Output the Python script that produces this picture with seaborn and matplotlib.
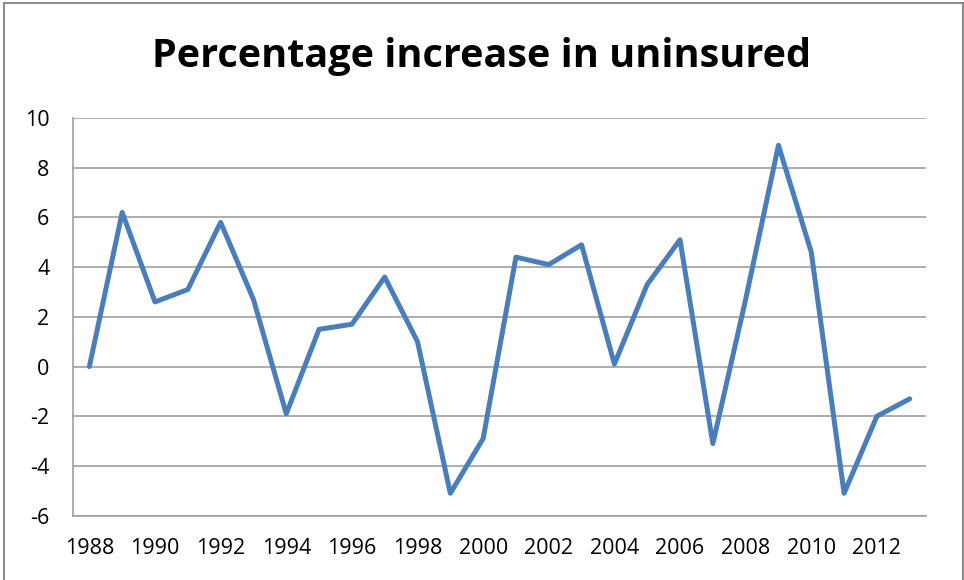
import matplotlib
matplotlib.use('Agg')
import matplotlib.pyplot as plt
import seaborn as sns
import pandas as pd
from matplotlib.patches import Rectangle

# data
years = list(range(1988, 2014))
pct_increase = [0.0, 6.2, 2.6, 3.1, 5.8, 2.7, -1.9, 1.5, 1.7, 3.6, 1.0, -5.1, -2.9,
                4.4, 4.1, 4.9, 0.1, 3.3, 5.1, -3.1, 2.7, 8.9, 4.6, -5.1, -2.0, -1.3]
tick_years = list(range(1988, 2013, 2))
y_ticks = [-6, -4, -2, 0, 2, 4, 6, 8, 10]

df = pd.DataFrame({'Year': years, 'Pct': pct_increase})

sns.set_style('white')
plt.rcParams['font.family'] = ['Open Sans', 'DejaVu Sans']
plt.rcParams['text.color'] = 'black'

fig = plt.figure(figsize=(9.64, 5.8), dpi=100)
ax = fig.add_axes([0.0757, 0.1109, 0.885, 0.6857])

sns.lineplot(data=df, x='Year', y='Pct', ax=ax, color='#4a7ebb', linewidth=3.6)

ax.set_xlim(1987.5, 2013.5)
ax.set_ylim(-6, 10)
ax.set_yticks(y_ticks)
ax.set_xticks(tick_years)
ax.set_xticklabels([str(y) for y in tick_years], fontsize=15.5)
ax.set_yticklabels([str(v) for v in y_ticks], fontsize=15.5)
ax.tick_params(axis='both', length=0, colors='black')
ax.tick_params(axis='y', pad=17)
ax.tick_params(axis='x', pad=16)
ax.yaxis.grid(True, color='#a0a0a0', linewidth=1.2)
ax.set_axisbelow(True)
ax.set_xlabel('')
ax.set_ylabel('')

for side in ['top', 'right']:
    ax.spines[side].set_visible(False)
for side in ['left', 'bottom']:
    ax.spines[side].set_color('#a0a0a0')
    ax.spines[side].set_linewidth(1.2)

fig.text(0.5, 0.902, 'Percentage increase in uninsured', ha='center', va='center',
         fontsize=28.5, fontweight='bold', color='black')

# outer chart border
fig.patches.append(Rectangle((0.004, -0.01), 0.995, 1.005, transform=fig.transFigure,
                             fill=False, edgecolor='#8c8c8c', linewidth=1.5))

fig.savefig('out.png', dpi=100)
